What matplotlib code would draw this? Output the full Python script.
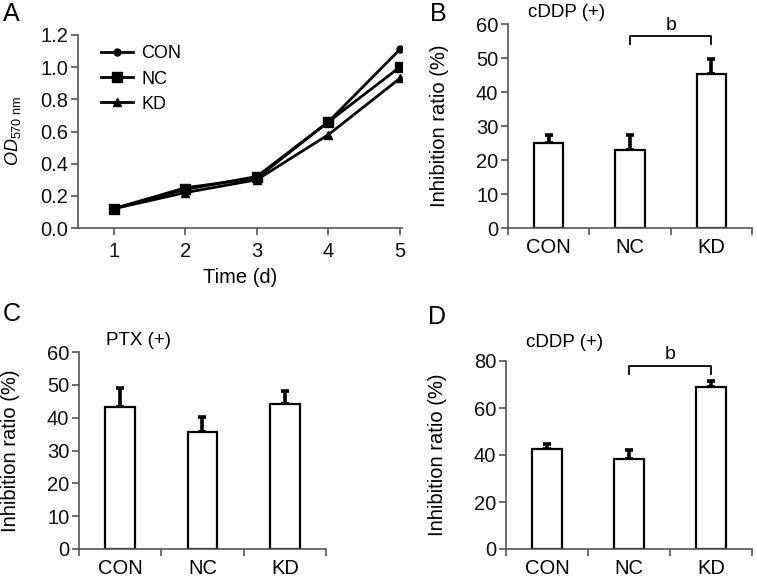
import numpy as np
import matplotlib
matplotlib.use("Agg")
import matplotlib.pyplot as plt

plt.rcParams["font.family"] = ["Liberation Sans", "DejaVu Sans"]
plt.rcParams["mathtext.fontset"] = "custom"
plt.rcParams["mathtext.it"] = "Liberation Sans:italic"
plt.rcParams["mathtext.rm"] = "Liberation Sans"

days = [1, 2, 3, 4, 5]
od_con = [0.12, 0.25, 0.31, 0.66, 1.11]
od_nc = [0.12, 0.24, 0.32, 0.66, 1.00]
od_kd = [0.12, 0.22, 0.30, 0.58, 0.93]

groups = ["CON", "NC", "KD"]
b_vals = [25.0, 23.0, 45.3]
b_err = [2.5, 4.3, 4.4]
c_vals = [43.2, 35.5, 44.2]
c_err = [5.8, 4.8, 4.0]
d_vals = [42.5, 38.5, 68.8]
d_err = [2.3, 3.5, 2.7]

W, H = 757, 578
fig = plt.figure(figsize=(W / 100, H / 100), dpi=100)

spine_c = "#555555"
fs = 14.5


def px_axes(l, t, r, b):
    return fig.add_axes([l / W, 1 - b / H, (r - l) / W, (b - t) / H])


def style(ax):
    for s in ["top", "right"]:
        ax.spines[s].set_visible(False)
    for s in ["left", "bottom"]:
        ax.spines[s].set_color(spine_c)
        ax.spines[s].set_linewidth(1.2)
    ax.tick_params(colors=spine_c, labelcolor="#111111", labelsize=fs,
                   length=5, width=1.2, pad=2)


def bar_panel(ax, vals, errs, ymax, step, title, title_y, sig=None):
    style(ax)
    x = np.arange(len(groups)) + 0.5
    ax.bar(x, vals, width=0.36, color="white", edgecolor="black", linewidth=1.6, zorder=2)
    ax.errorbar(x, vals, yerr=[np.zeros(len(errs)), errs], fmt="none",
                ecolor="black", elinewidth=2.6, capsize=3, capthick=2.6, zorder=1)
    ax.set_xlim(0, len(groups))
    ax.set_ylim(0, ymax)
    ax.set_yticks(np.arange(0, ymax + 1, step))
    ax.set_xticks(range(len(groups) + 1))
    ax.set_xticklabels([])
    ax.set_xticks(x, minor=True)
    ax.set_xticklabels(groups, minor=True)
    ax.tick_params(axis="x", which="minor", length=0, labelsize=fs, pad=7)
    ax.set_ylabel("Inhibition ratio (%)", fontsize=fs)
    ax.yaxis.set_label_coords(-0.24, 0.5)
    ax.text(0.24, title_y, title, transform=ax.transAxes, ha="center",
            va="center", fontsize=13.5)
    if sig:
        y0, y1, yb = sig
        ax.plot([x[1], x[1], x[2], x[2]], [y0, y1, y1, y0], color="black",
                lw=1.3, clip_on=False)
        ax.text((x[1] + x[2]) / 2, yb, "b", ha="center",
                va="center", fontsize=14)


# A
axA = px_axes(78, 35, 402, 228)
style(axA)
axA.plot(days, od_con, color="black", lw=2, marker="o", ms=5, label="CON")
axA.plot(days, od_nc, color="black", lw=2, marker="s", ms=7, label="NC")
axA.plot(days, od_kd, color="black", lw=2, marker="^", ms=6, label="KD")
axA.set_xlim(0.5, 5.03)
axA.set_ylim(0, 1.2)
axA.set_xticks(days)
axA.set_yticks(np.arange(0, 1.21, 0.2))
axA.set_yticklabels([f"{v:.1f}" for v in np.arange(0, 1.21, 0.2)])
axA.tick_params(axis="x", pad=5)
axA.set_xlabel("Time (d)", fontsize=fs, labelpad=5)
axA.set_ylabel(r"$OD_{\mathrm{570\ nm}}$", fontsize=13)
axA.yaxis.set_label_coords(-0.17, 0.5)
axA.legend(loc="upper left", bbox_to_anchor=(0.02, 1.03), frameon=False,
           fontsize=13, handlelength=1.8, handletextpad=0.45, labelspacing=0.45)

# B
axB = px_axes(508, 24, 752, 228)
bar_panel(axB, b_vals, b_err, 60, 10, "cDDP (+)", 1.054, sig=(54.2, 56.5, 59.5))

# C
axC = px_axes(79, 352, 326, 549)
bar_panel(axC, c_vals, c_err, 60, 10, "PTX (+)", 1.06)

# D
axD = px_axes(506, 361, 752, 549)
bar_panel(axD, d_vals, d_err, 80, 20, "cDDP (+)", 1.10, sig=(74.5, 77.9, 82.8))

for lab, (xp, yp) in zip("ABCD", [(3, 2), (430, 2), (3, 302), (428, 305)]):
    fig.text(xp / W, 1 - yp / H, lab, fontsize=18, va="top", ha="left")

fig.savefig("out.png", dpi=100)
